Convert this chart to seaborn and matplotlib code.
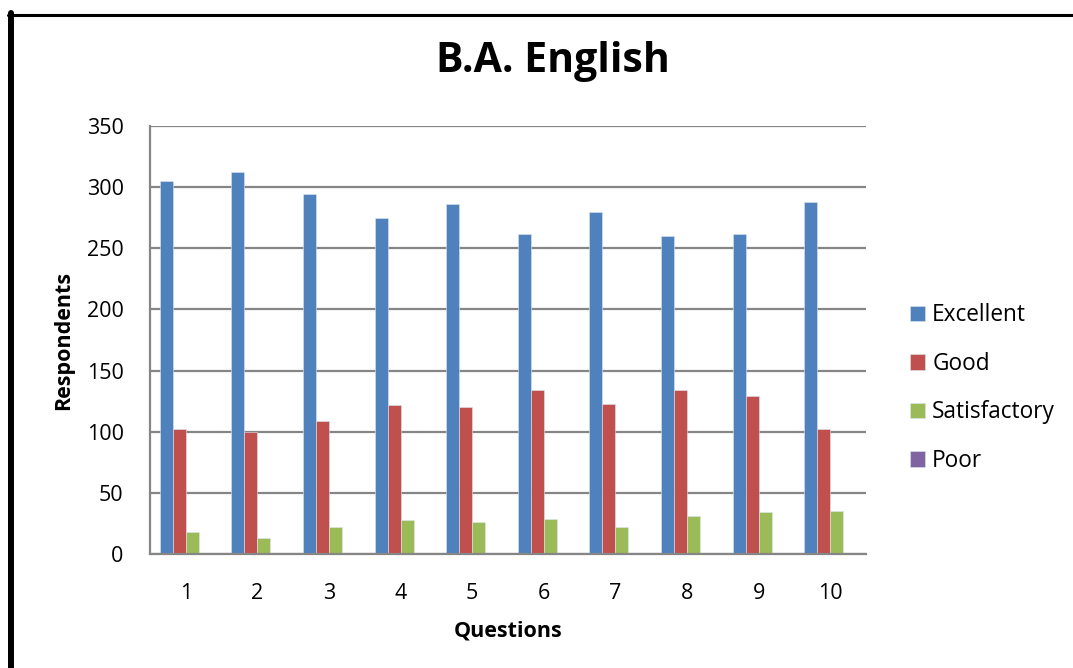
import pandas as pd
import numpy as np
import matplotlib.pyplot as plt
import seaborn as sns
from matplotlib.lines import Line2D

sns.set_style('white')
plt.rcParams['font.family'] = ['Open Sans', 'DejaVu Sans']
plt.rcParams['text.color'] = 'black'
plt.rcParams['axes.labelcolor'] = 'black'

questions = ['1', '2', '3', '4', '5', '6', '7', '8', '9', '10']
ratings = ['Excellent', 'Good', 'Satisfactory', 'Poor']
excellent = [305, 312, 294, 275, 286, 262, 280, 260, 262, 288]
good = [102, 100, 109, 122, 120, 134, 123, 134, 129, 102]
satisfactory = [18, 13, 22, 28, 26, 29, 22, 31, 34, 35]
poor = [0, 0, 0, 0, 0, 0, 0, 0, 0, 0]
colors = ['#4F81BD', '#C0504D', '#9BBB59', '#8064A2']

# long format for seaborn
df = pd.DataFrame({'Question': questions * 4,
                   'Rating': np.repeat(ratings, len(questions)),
                   'Respondents': excellent + good + satisfactory + poor})

W, H = 1073, 668
fig = plt.figure(figsize=(W / 100, H / 100), dpi=100)
ax = fig.add_axes([150 / W, 1 - 554 / H, 716 / W, 428 / H])

sns.barplot(data=df, x='Question', y='Respondents', hue='Rating',
            hue_order=ratings, order=questions, palette=colors, saturation=1,
            width=0.726, gap=0, edgecolor='#dde6f0', linewidth=0.4, ax=ax)

ax.set_xlim(-0.5, 9.5)
ax.set_ylim(0, 350)
ax.set_yticks(range(0, 351, 50))
ax.yaxis.grid(True, color='#868686', linewidth=1.6)
ax.set_axisbelow(True)
for s in ['top', 'right']:
    ax.spines[s].set_visible(False)
for s in ['left', 'bottom']:
    ax.spines[s].set_color('#868686')
    ax.spines[s].set_linewidth(1.6)

ax.tick_params(axis='y', length=6, width=1.6, color='#868686',
               labelcolor='black', labelsize=15.5, pad=13)
ax.tick_params(axis='x', length=0, labelcolor='black', labelsize=15.5, pad=21)

ax.set_xlabel('Questions', fontsize=15.5, fontweight='bold', labelpad=12)
ax.set_ylabel('Respondents', fontsize=15.5, fontweight='bold', labelpad=9)
# title sits a bit right of the plot centre, as in the original chart
ax.set_title('B.A. English', fontsize=29.5, fontweight='bold', pad=39,
             x=(553 - 150) / 716)

ax.legend(loc='center left', bbox_to_anchor=(910 / W, 1 - 388 / H),
          bbox_transform=fig.transFigure, frameon=False, borderpad=0,
          borderaxespad=0, fontsize=16.3, handlelength=0.68, handleheight=0.68,
          handletextpad=0.3, labelspacing=1.08)

# frame around the chart area
fig.add_artist(Line2D([11 / W, 11 / W], [0, 1 - 13 / H],
                      color='black', linewidth=4.3, transform=fig.transFigure))
fig.add_artist(Line2D([8 / W, 1], [1 - 14.5 / H, 1 - 14.5 / H],
                      color='black', linewidth=2.2, transform=fig.transFigure))

fig.savefig('out.png', dpi=100)
